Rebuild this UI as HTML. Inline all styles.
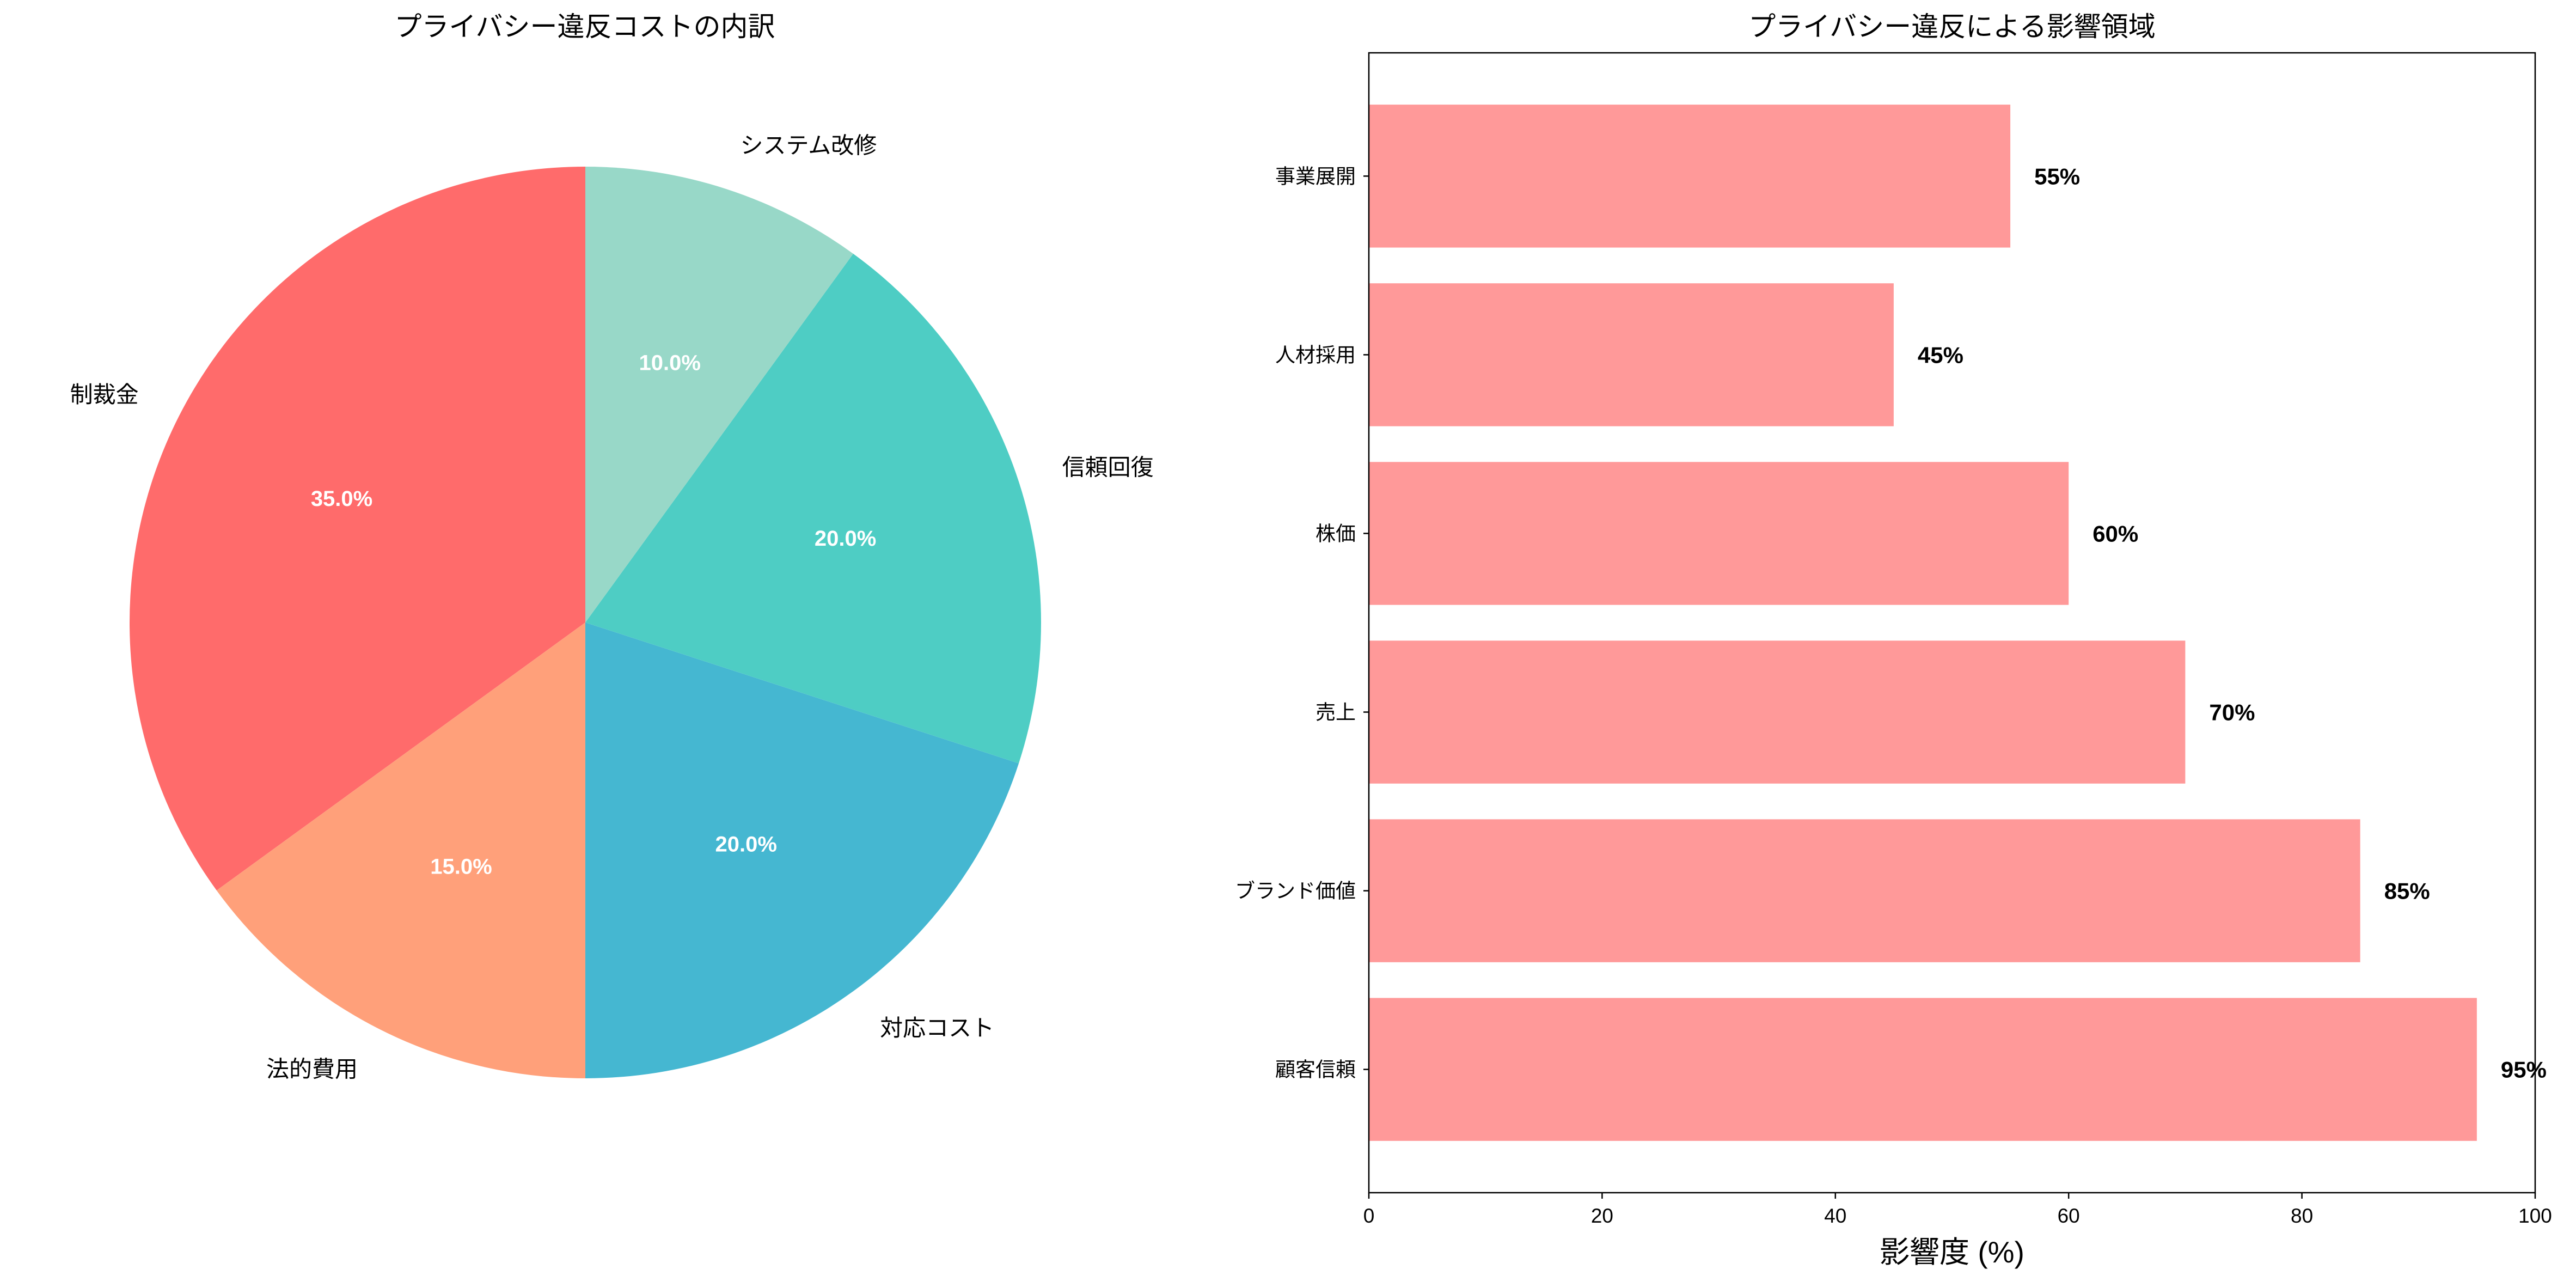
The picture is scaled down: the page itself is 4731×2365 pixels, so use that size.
<!DOCTYPE html>
<html><head><meta charset="utf-8">
<style>
html,body{margin:0;padding:0;background:#fff;}
svg{display:block;font-family:"Liberation Sans","Noto Sans CJK JP","DejaVu Sans",sans-serif;}
</style></head>
<body>
<svg id="chart" width="4731" height="2365" viewBox="0 0 4731 2365" xmlns="http://www.w3.org/2000/svg">
<rect width="4731" height="2365" fill="#fff"/>
<g id="pie"></g>
<g id="bars"></g>
</svg>
<script>
const pieLabels = ["制裁金","法的費用","対応コスト","信頼回復","システム改修"];
const pieValues = [35,15,20,20,10];
const pieColors = ["#FF6B6B","#FFA07A","#45B7D1","#4ECDC4","#98D8C8"];
const barCategories = ["顧客信頼","ブランド価値","売上","株価","人材採用","事業展開"];
const barValues = [95,85,70,60,45,55];
const xTicks = [0,20,40,60,80,100];

const NS="http://www.w3.org/2000/svg";
function mk(parent,tag,attrs,text){const e=document.createElementNS(NS,tag);for(const k in attrs)e.setAttribute(k,attrs[k]);if(text!==undefined)e.textContent=text;parent.appendChild(e);return e;}

// PIE
const pie=document.getElementById('pie');
const cx=1075, cy=1143, R=837;
const total=pieValues.reduce((a,b)=>a+b,0);
let ang=90;
const pt=(a,r)=>[cx+r*Math.cos(a*Math.PI/180), cy-r*Math.sin(a*Math.PI/180)];
const pt1=mk(pie,'text',{x:1074,y:66,'font-size':50,'text-anchor':'middle'},'プライバシー違反コストの内訳');


pieValues.forEach((v,i)=>{
  const sweep=v/total*360;
  const a0=ang,a1=ang+sweep;
  const p0=pt(a0,R),p1=pt(a1,R);
  const large=sweep>180?1:0;
  const path=mk(pie,'path',{d:`M${cx},${cy} L${p0[0]},${p0[1]} A${R},${R} 0 ${large} 0 ${p1[0]},${p1[1]} Z`,fill:pieColors[i]});
  
  
  const mid=(a0+a1)/2;
  const lp=pt(mid,R*1.1);
  const c=Math.cos(mid*Math.PI/180);
  const lbl=mk(pie,'text',{x:lp[0],y:lp[1]+14,'font-size':42,'text-anchor':c>0.01?'start':(c<-0.01?'end':'middle')},pieLabels[i]);
  
  
  const pp=pt(mid,R*0.6);
  const pc=mk(pie,'text',{x:pp[0],y:pp[1]+14,'font-size':40,'font-weight':'bold',fill:'#fff','text-anchor':'middle'},v.toFixed(1)+'%');
  
  
  ang=a1;
});

// BARS
const bars=document.getElementById('bars');
const L=2514,Rr=4656,T=97,B=2190;
const xs=v=>L+(v-0)/(100-0)*(Rr-L);
const yMin=-0.69,yMax=5.69;
const ys=v=>B-(v-yMin)/(yMax-yMin)*(B-T);
const bt=mk(bars,'text',{x:(L+Rr)/2,y:66,'font-size':50,'text-anchor':'middle'},'プライバシー違反による影響領域');


barValues.forEach((v,i)=>{
  const y0=ys(i+0.4),y1=ys(i-0.4);
  const r=mk(bars,'rect',{x:L,y:y0,width:xs(v)-L,height:y1-y0,fill:'#FF9999'});
  
  
  const t=mk(bars,'text',{x:xs(v)+44,y:ys(i)+15,'font-size':42,'font-weight':'bold'},v+'%');
  
  
  const tk=mk(bars,'line',{x1:L-10,x2:L,y1:ys(i),y2:ys(i),stroke:'#000','stroke-width':2.5});
  
  
  const tl=mk(bars,'text',{x:L-24,y:ys(i)+13,'font-size':37,'text-anchor':'end'},barCategories[i]);
  
  
});
xTicks.forEach(v=>{
  const tk=mk(bars,'line',{x1:xs(v),x2:xs(v),y1:B,y2:B+11,stroke:'#000','stroke-width':2.5});
  
  
  const tl=mk(bars,'text',{x:xs(v),y:B+55,'font-size':37,'text-anchor':'middle'},String(v));
  
  
});
const frame=mk(bars,'rect',{x:L,y:T,width:Rr-L,height:B-T,fill:'none',stroke:'#000','stroke-width':2.5});


const xl=mk(bars,'text',{x:(L+Rr)/2,y:2318,'font-size':55,'text-anchor':'middle'},'影響度 (%)');


</script>
</body></html>
